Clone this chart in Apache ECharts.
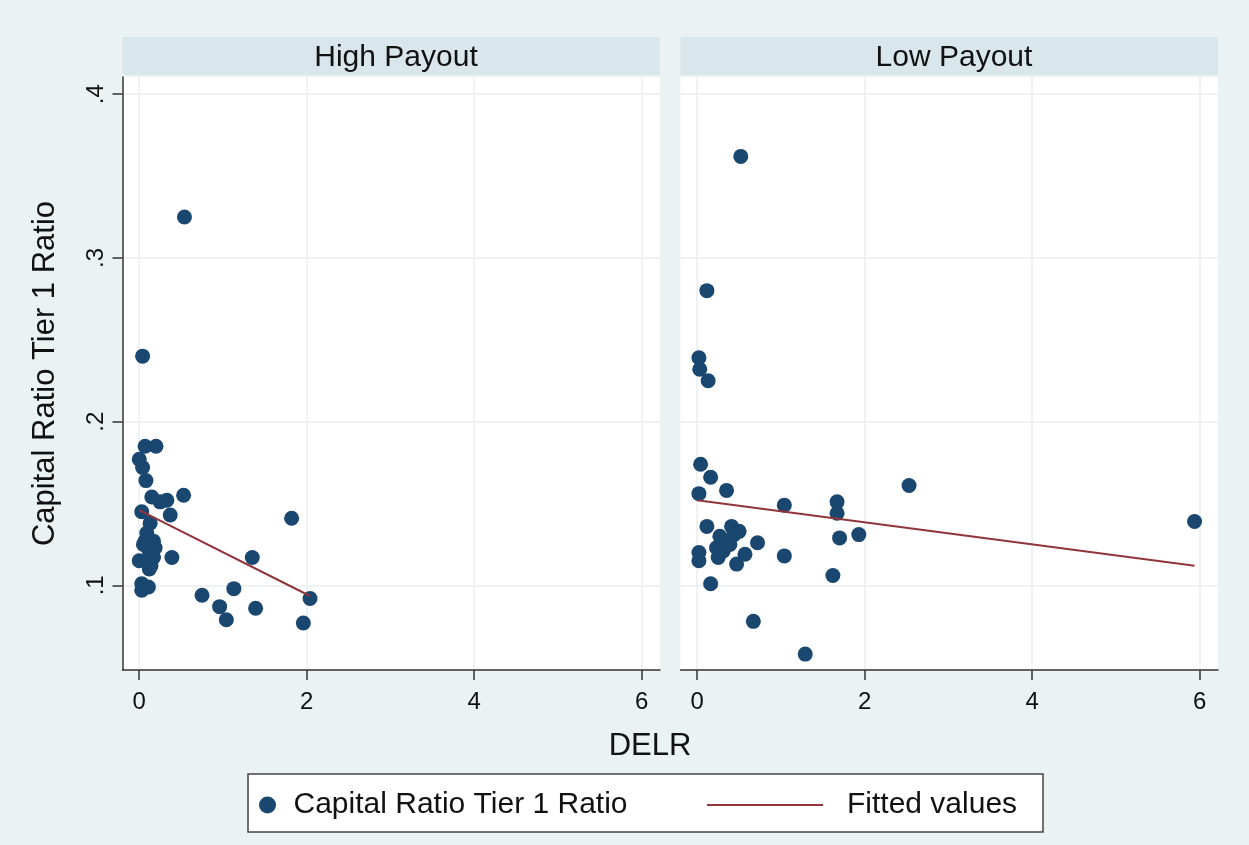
<!DOCTYPE html>
<html>
<head>
<meta charset="utf-8">
<title>Capital Ratio vs DELR</title>
<script src="https://cdn.jsdelivr.net/npm/echarts@6.0.0/dist/echarts.min.js"></script>
<style>
  body { margin: 0; background: #eaf2f3; }
  #chart { width: 1249px; height: 845px; }
</style>
</head>
<body>
<div id="chart"></div>
<script>
// panel titles and tick labels
const panels = ['High Payout', 'Low Payout'];
const xTicks = [0, 2, 4, 6];
const yTicks = [0.1, 0.2, 0.3, 0.4];

// High Payout group (DELR, Tier 1 ratio)
const highX = [0.54, 0.04, 0.07, 0.20, 0.00, 0.04, 0.08, 0.15, 0.25, 0.33, 0.53, 0.03, 0.37, 0.13,
  0.07, 0.17, 0.19, 0.00, 0.11, 0.17, 0.39, 0.12, 0.03, 0.11, 0.03, 1.82, 1.35, 2.04, 0.75, 1.13,
  0.96, 1.04, 1.39, 1.96, 0.05, 0.12, 0.09, 0.14];
const highY = [0.325, 0.240, 0.185, 0.185, 0.177, 0.172, 0.164, 0.154, 0.151, 0.152, 0.155, 0.145, 0.143, 0.138,
  0.127, 0.127, 0.123, 0.115, 0.115, 0.117, 0.117, 0.110, 0.101, 0.099, 0.097, 0.141, 0.117, 0.092, 0.094, 0.098,
  0.087, 0.079, 0.086, 0.077, 0.125, 0.121, 0.132, 0.112];

// Low Payout group
const lowX = [0.52, 0.115, 0.02, 0.03, 0.13, 0.04, 0.16, 0.02, 0.35, 1.04, 1.67, 1.67, 2.53, 0.115,
  1.70, 1.93, 0.72, 1.04, 0.02, 0.02, 0.41, 0.50, 0.27, 0.35, 0.23, 0.31, 0.25, 0.39, 0.57, 0.47,
  0.16, 1.62, 0.67, 1.29, 5.94, 0.30, 0.44, 0.28];
const lowY = [0.362, 0.280, 0.239, 0.232, 0.225, 0.174, 0.166, 0.156, 0.158, 0.149, 0.151, 0.144, 0.161, 0.136,
  0.129, 0.131, 0.126, 0.118, 0.120, 0.115, 0.136, 0.133, 0.130, 0.127, 0.123, 0.121, 0.117, 0.125, 0.119, 0.113,
  0.101, 0.106, 0.078, 0.058, 0.139, 0.128, 0.131, 0.124];

// fitted values (end points of the fitted lines)
const fitHighX = [0, 2.04];
const fitHighY = [0.146, 0.0935];
const fitLowX = [0, 5.94];
const fitLowY = [0.152, 0.112];

const zip = (xs, ys) => xs.map((x, i) => [x, ys[i]]);

const dotColor = '#1a476f';
const fitColor = '#90353b';
const gridColor = '#e8eef1';
const axisColor = '#333';
const font = '"Liberation Sans", Arial, sans-serif';

const chart = echarts.init(document.getElementById('chart'));

function xAxisFor(idx) {
  return {
    type: 'value',
    gridIndex: idx,
    min: -0.2,
    max: 6.22,
    axisLine: { show: true, onZero: false, lineStyle: { color: axisColor, width: 1.5 } },
    axisTick: { show: true, length: 10, customValues: xTicks, lineStyle: { color: axisColor, width: 1.5 } },
    axisLabel: { customValues: xTicks, fontSize: 24, color: '#111', fontFamily: font, margin: 20 },
    splitLine: { show: true, customValues: xTicks, lineStyle: { color: gridColor, width: 1.5 } },
  };
}

function yAxisFor(idx) {
  const first = idx === 0;
  return {
    type: 'value',
    gridIndex: idx,
    min: 0.0483,
    max: 0.4105,
    name: first ? 'Capital Ratio Tier 1 Ratio' : '',
    nameLocation: 'middle',
    nameGap: 62,
    nameTextStyle: { fontSize: 31, color: '#111', fontFamily: font },
    axisLine: { show: first, onZero: false, lineStyle: { color: axisColor, width: 1.5 } },
    axisTick: { show: first, length: 10, customValues: yTicks, lineStyle: { color: axisColor, width: 1.5 } },
    axisLabel: {
      show: first,
      customValues: yTicks,
      rotate: 90,
      fontSize: 24,
      color: '#111',
      fontFamily: font,
      margin: 14,
      formatter: (v) => String(+v.toFixed(1)).replace(/^0/, ''),
    },
    splitLine: { show: true, customValues: yTicks, lineStyle: { color: gridColor, width: 1.5 } },
  };
}

chart.setOption({
  backgroundColor: '#eaf2f3',
  animation: false,
  textStyle: { fontFamily: font },
  title: [
    { text: panels[0], left: 391, top: 38, textAlign: 'center',
      textStyle: { fontSize: 30, fontWeight: 'normal', color: '#111', fontFamily: font } },
    { text: panels[1], left: 949, top: 38, textAlign: 'center',
      textStyle: { fontSize: 30, fontWeight: 'normal', color: '#111', fontFamily: font } },
    { text: 'DELR', left: 645, top: 726, textAlign: 'center',
      textStyle: { fontSize: 31, fontWeight: 'normal', color: '#111', fontFamily: font } },
  ],
  graphic: [
    // strip headers
    { type: 'rect', z: 0, shape: { x: 122.5, y: 37, width: 537.5, height: 38 }, style: { fill: '#d9e6ec' } },
    { type: 'rect', z: 0, shape: { x: 680.5, y: 37, width: 537.5, height: 38 }, style: { fill: '#d9e6ec' } },
    // legend box
    { type: 'rect', z: 0, shape: { x: 248, y: 774, width: 795, height: 58 },
      style: { fill: '#fff', stroke: '#444', lineWidth: 1.5 } },
  ],
  legend: [
    {
      data: ['Capital Ratio Tier 1 Ratio'],
      left: 259,
      top: 788,
      padding: 0,
      itemWidth: 30,
      itemHeight: 17,
      selectedMode: false,
      itemStyle: { opacity: 1 },
      textStyle: { fontSize: 30, color: '#111', fontFamily: font, lineHeight: 34, padding: [0, 0, 0, 6] },
    },
    {
      data: [{ name: 'Fitted values', icon: 'rect' }],
      left: 707,
      top: 788,
      padding: 0,
      itemWidth: 116,
      itemHeight: 2,
      selectedMode: false,
      textStyle: { fontSize: 30, color: '#111', fontFamily: font, lineHeight: 34, padding: [0, 0, 0, 19] },
    },
  ],
  grid: [
    { left: 122.5, top: 77, width: 537.5, height: 593, show: true, backgroundColor: '#fff', borderWidth: 0 },
    { left: 680.5, top: 77, width: 537.5, height: 593, show: true, backgroundColor: '#fff', borderWidth: 0 },
  ],
  xAxis: [xAxisFor(0), xAxisFor(1)],
  yAxis: [yAxisFor(0), yAxisFor(1)],
  series: [
    {
      name: 'Capital Ratio Tier 1 Ratio',
      type: 'scatter',
      xAxisIndex: 0,
      yAxisIndex: 0,
      symbolSize: 15,
      itemStyle: { color: dotColor, opacity: 1 },
      data: zip(highX, highY),
    },
    {
      name: 'Capital Ratio Tier 1 Ratio',
      type: 'scatter',
      xAxisIndex: 1,
      yAxisIndex: 1,
      symbolSize: 15,
      itemStyle: { color: dotColor, opacity: 1 },
      data: zip(lowX, lowY),
    },
    {
      name: 'Fitted values',
      type: 'line',
      xAxisIndex: 0,
      yAxisIndex: 0,
      symbol: 'none',
      lineStyle: { color: fitColor, width: 2 },
      itemStyle: { color: fitColor },
      data: zip(fitHighX, fitHighY),
    },
    {
      name: 'Fitted values',
      type: 'line',
      xAxisIndex: 1,
      yAxisIndex: 1,
      symbol: 'none',
      lineStyle: { color: fitColor, width: 2 },
      itemStyle: { color: fitColor },
      data: zip(fitLowX, fitLowY),
    },
  ],
});
</script>
</body>
</html>
